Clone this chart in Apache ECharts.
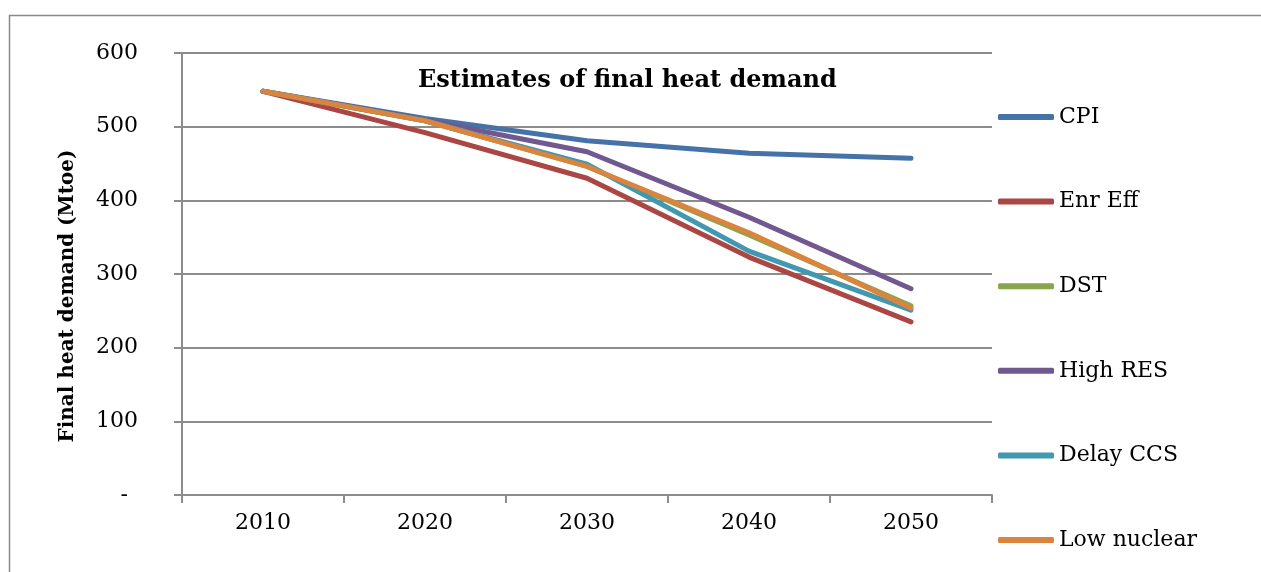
<!DOCTYPE html>
<html>
<head>
<meta charset="utf-8">
<script src="https://cdn.jsdelivr.net/npm/echarts@6/dist/echarts.min.js"></script>
<style>html,body{margin:0;padding:0;background:#fff}#c{width:1261px;height:572px}</style>
</head>
<body>
<div id="c"></div>
<script>
var categories = ['2010', '2020', '2030', '2040', '2050'];
var cpi      = [548, 511, 481, 464, 457];
var enrEff   = [548, 492, 430, 323, 235];
var dst      = [548, 508, 446, 353, 257];
var highRes  = [548, 509, 466, 377, 280];
var delayCcs = [548, 508, 449, 331, 251];
var lowNuc   = [548, 508, 446, 356, 254];
var seriesNames = ['CPI', 'Enr Eff', 'DST', 'High RES', 'Delay CCS', 'Low nuclear'];
var seriesData = [cpi, enrEff, dst, highRes, delayCcs, lowNuc];
var colors = ['#4572A7', '#AA4643', '#89A54E', '#71588F', '#4198AF', '#DB843D'];
var yTicks = [0, 100, 200, 300, 400, 500, 600];

var FONT = '"DejaVu Serif", serif';
var chart = echarts.init(document.getElementById('c'));
chart.setOption({
  animation: false,
  color: colors,
  textStyle: { fontFamily: FONT, color: '#000' },
  title: {
    text: 'Estimates of final heat demand',
    left: 413, top: 64,
    textStyle: { fontFamily: FONT, fontSize: 24, fontWeight: 'bold', color: '#000' }
  },
  graphic: [
    { type: 'rect', silent: true, shape: { x: 9.5, y: 15.5, width: 1260, height: 600 },
      style: { fill: 'none', stroke: '#8a8a8a', lineWidth: 1.5 } },
    { type: 'text', x: 68, y: 296, rotation: Math.PI / 2,
      style: { text: 'Final heat demand (Mtoe)', fontFamily: FONT, fontSize: 20, fontWeight: 'bold',
               fill: '#000', textAlign: 'center', textVerticalAlign: 'middle' } }
  ],
  legend: {
    orient: 'vertical',
    left: 993, top: 99,
    itemWidth: 56, itemHeight: 6, itemGap: 58.6,
    icon: 'roundRect',
    data: seriesNames,
    textStyle: { fontFamily: FONT, fontSize: 22, color: '#000', lineHeight: 26 }
  },
  grid: { left: 182, right: 269, top: 53, bottom: 77 },
  xAxis: {
    type: 'category',
    data: categories,
    boundaryGap: true,
    axisLine: { lineStyle: { color: '#8c8c8c', width: 2 } },
    axisTick: { show: true, length: 8, alignWithLabel: false, lineStyle: { color: '#8c8c8c', width: 2 } },
    axisLabel: { margin: 17, fontSize: 22, fontFamily: FONT, color: '#000' }
  },
  yAxis: {
    type: 'value',
    min: 0, max: 600, interval: 100,
    axisLine: { show: true, lineStyle: { color: '#8c8c8c', width: 2 } },
    axisTick: { show: true, length: 8, lineStyle: { color: '#8c8c8c', width: 2 } },
    splitLine: { lineStyle: { color: '#8c8c8c', width: 2 } },
    axisLabel: {
      margin: 44, fontSize: 22, fontFamily: FONT, color: '#000',
      formatter: function (v) { return v === 0 ? '{d|-}' : String(v); },
      rich: { d: { fontSize: 22, fontFamily: FONT, color: '#000', padding: [0, 10, 0, 0] } }
    }
  },
  series: seriesNames.map(function (n, i) {
    return {
      name: n, type: 'line', data: seriesData[i],
      symbol: 'none', smooth: false,
      lineStyle: { width: 5, color: colors[i], cap: 'round', join: 'round' },
      itemStyle: { color: colors[i] }
    };
  })
});
</script>
</body>
</html>
